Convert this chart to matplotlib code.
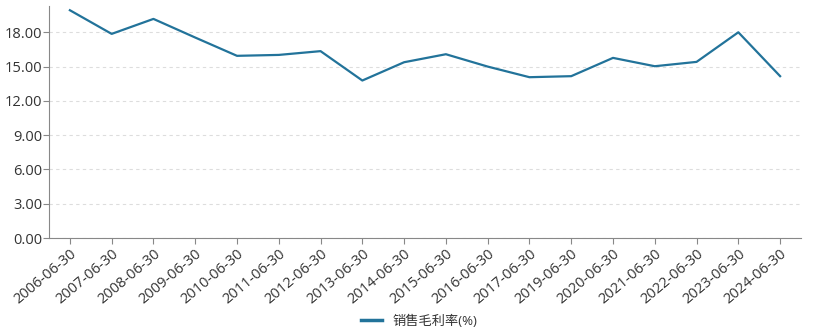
import numpy as np
import matplotlib.pyplot as plt
from matplotlib.lines import Line2D

plt.rcParams['font.family'] = ['Open Sans', 'Noto Sans CJK SC', 'DejaVu Sans']

dates = ['2006-06-30', '2007-06-30', '2008-06-30', '2009-06-30', '2010-06-30',
         '2011-06-30', '2012-06-30', '2013-06-30', '2014-06-30', '2015-06-30',
         '2016-06-30', '2017-06-30', '2019-06-30', '2020-06-30', '2021-06-30',
         '2022-06-30', '2023-06-30', '2024-06-30']
margin = [19.93, 17.86, 19.17, 17.54, 15.94, 16.02, 16.35, 13.78, 15.38, 16.08,
          15.00, 14.07, 14.16, 15.76, 15.03, 15.41, 18.00, 14.16]
yticks = [0, 3, 6, 9, 12, 15, 18]

fig = plt.figure(figsize=(8.3, 3.29), dpi=100)
ax = fig.add_axes([49/830, 1-238/329, (801-49)/830, (238-6)/329])

x = np.arange(len(dates))
ax.plot(x, margin, color='#22739a', lw=1.6)

ax.set_xlim(-0.5, len(dates)-0.5)
ax.set_ylim(0, 20.3)
ax.set_yticks(yticks)
ax.set_yticklabels(['%.2f' % v for v in yticks], fontsize=10.5, color='#333333')
ax.set_xticks(x)
ax.set_xticklabels(dates, rotation=40, ha='right', rotation_mode='anchor',
                   fontsize=10.5, color='#333333')
ax.grid(axis='y', color='#dddddd', ls=(0, (3, 3)), lw=0.8)
for s in ['top', 'right']:
    ax.spines[s].set_visible(False)
for s in ['left', 'bottom']:
    ax.spines[s].set_color('#888888')
ax.tick_params(axis='both', color='#888888', length=4)
ax.tick_params(axis='y', pad=1)
ax.tick_params(axis='x', pad=2)

handle = Line2D([], [], color='#22739a', lw=2.5)
fig.legend([handle], ['销售毛利率(%)'], loc='center',
           bbox_to_anchor=(0.505, 1-321/329), frameon=False,
           fontsize=9.5, handlelength=1.6, labelcolor='#333333')

fig.savefig('out.png')
